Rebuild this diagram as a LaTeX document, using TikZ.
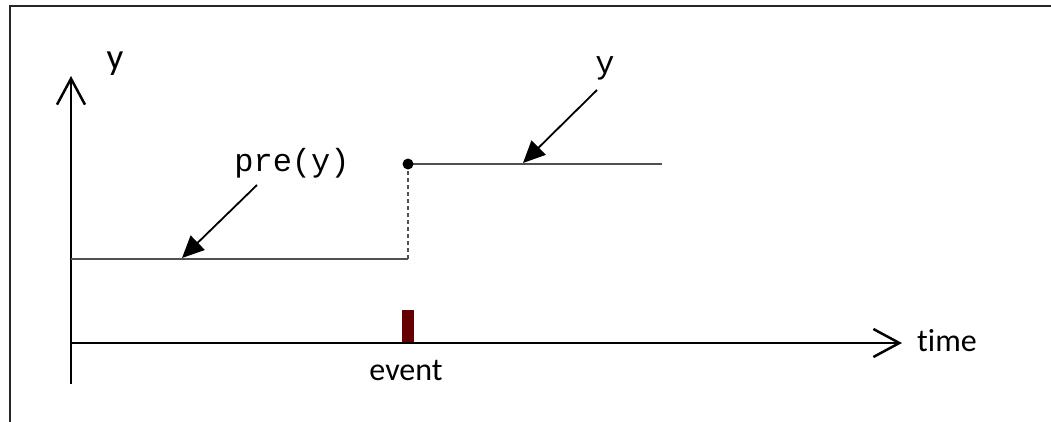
\documentclass[tikz,border=0pt]{standalone}
\usepackage{fontspec}
\setmainfont{Carlito}[Ligatures={NoCommon}]
\newfontfamily\monofnt{Liberation Mono}
\usetikzlibrary{arrows.meta}
\definecolor{evred}{RGB}{102,0,0}
\definecolor{lvlgray}{RGB}{80,80,80}
\begin{document}
\begin{tikzpicture}[x=1pt,y=-1pt,
  axis/.style={line width=2.5pt,-{Straight Barb[length=26pt,width=28pt,line width=2.5pt]}},
  level/.style={line width=1.4pt,draw=lvlgray},
  pointer/.style={line width=1.8pt,-{Triangle[length=22pt,width=20pt]}},
  sanslbl/.style={font=\fontsize{32}{32}\selectfont,inner sep=0pt},
  monolbl/.style={font=\monofnt\fontsize{32}{32}\selectfont,inner sep=0pt}]
\useasboundingbox (0,0) rectangle (1051,421);
\clip (0,0) rectangle (1051,421);
% frame
\draw[line width=2.2pt,draw=black!85] (10,440) -- (10,6) -- (1070,6);
% coordinates
\coordinate (O) at (71,343);
\coordinate (ybot) at (71,384);
\coordinate (ytip) at (71,76);
\coordinate (xtip) at (902,343);
\coordinate (preL) at (71,259);
\coordinate (preR) at (408,259);
\coordinate (jump) at (408,164);
\coordinate (postR) at (662,164);
\coordinate (preHit) at (182,258);
\coordinate (postHit) at (523,163);
% axes
\draw[axis] (ybot) -- (ytip);
\draw[axis] (O) -- (xtip);
% levels
\draw[level] (preL) -- (preR);
\draw[line width=1.2pt,draw=lvlgray,dash pattern=on 4pt off 3pt] (preR) -- (jump);
\draw[level] (jump) -- (postR);
\fill (jump) circle (5.5pt);
% event marker
\fill[evred] (402,310) rectangle (414,342);
% labels
\node[sanslbl,font=\fontsize{37}{37}\selectfont] (ylab) at (115,64) {y};
\node[sanslbl,anchor=west] (timelab) at (917,341) {time};
\node[sanslbl] (evlab) at (406,370) {event};
\node[monolbl] (prelab) at (292,163) {pre(y)};
\node[monolbl] (postlab) at (605,68) {y};
% pointers
\draw[pointer] (257,185) -- (preHit);
\draw[pointer] (597,90) -- (postHit);
\end{tikzpicture}
\end{document}
